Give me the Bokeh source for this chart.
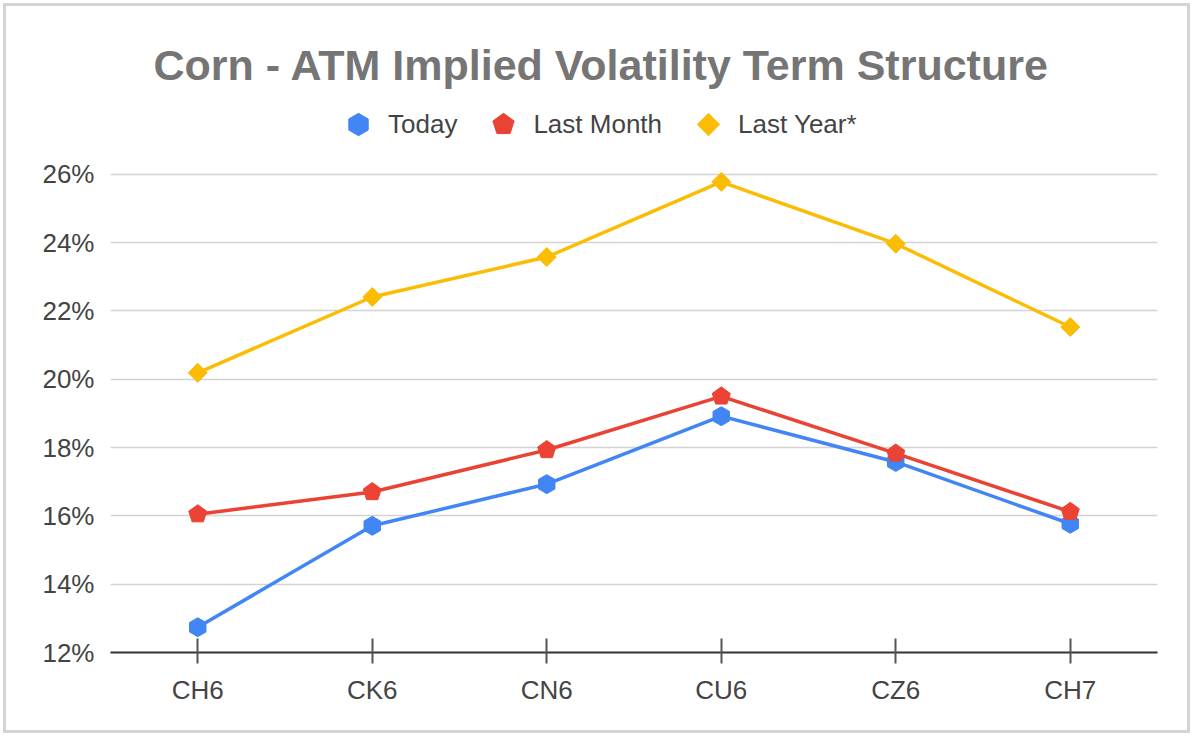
from bokeh.plotting import figure
from bokeh.models import Range1d, Legend, LegendItem, FixedTicker, CustomJSTickFormatter
from bokeh.embed import file_html
from bokeh.resources import INLINE

# Contract months and ATM implied volatility (%)
contracts = ["CH6", "CK6", "CN6", "CU6", "CZ6", "CH7"]
today = [12.74, 15.71, 16.93, 18.92, 17.58, 15.77]
last_month = [16.05, 16.70, 17.93, 19.50, 17.83, 16.12]
last_year = [20.19, 22.41, 23.58, 25.78, 23.97, 21.53]
y_ticks = [12, 14, 16, 18, 20, 22, 24, 26]

FONT = "Liberation Sans"
LABEL_SIZE = "26px"

# the plot area reaches up past the 26% line to leave room for the legend
p = figure(
    width=1187, height=730,
    x_range=contracts, y_range=Range1d(12, 28.31),
    output_backend="svg", toolbar_location=None,
    min_border_left=104, min_border_right=36,
    min_border_top=89, min_border_bottom=84,
    background_fill_color="white", border_fill_color="white",
)
p.styles = {"border": "3px solid #d4d4d4", "margin": "3px"}
p.outline_line_color = None

p.title.text = "Corn - ATM Implied Volatility Term Structure"
p.title.text_font = FONT
p.title.text_font_style = "bold"
p.title.text_font_size = "43px"
p.title.text_color = "#757575"
p.title.align = "left"
p.title.offset = 43
p.title.standoff = 13

# axes
p.yaxis.ticker = FixedTicker(ticks=y_ticks)
p.yaxis.formatter = CustomJSTickFormatter(code="return tick + '%';")
p.yaxis.axis_line_color = None
p.yaxis.major_tick_line_color = None
p.yaxis.minor_tick_line_color = None
p.yaxis.major_label_standoff = 10
p.yaxis.major_label_text_font = FONT
p.yaxis.major_label_text_font_size = LABEL_SIZE
p.yaxis.major_label_text_color = "#444444"

p.xaxis.axis_line_color = "#333333"
p.xaxis.axis_line_width = 2
p.xaxis.major_tick_line_color = "#555555"
p.xaxis.major_tick_line_width = 2
p.xaxis.major_tick_in = 14
p.xaxis.major_tick_out = 11
p.xaxis.major_label_standoff = 11
p.xaxis.major_label_text_font = FONT
p.xaxis.major_label_text_font_size = LABEL_SIZE
p.xaxis.major_label_text_color = "#444444"

p.xgrid.grid_line_color = None
p.ygrid.grid_line_color = "#d3d3d3"
p.ygrid.grid_line_width = 1.5

series = [
    ("Today", today, "#4285F4", 6),
    ("Last Month", last_month, "#EA4335", 5),
    ("Last Year*", last_year, "#FBBC04", 4),
]

items = []
for label, vals, color, n in series:
    p.line(contracts, vals, line_color=color, line_width=3.5)
    r = p.ngon(x=contracts, y=vals, radius=9.5, radius_units="screen", n=n,
               fill_color=color, line_color=color)
    items.append(LegendItem(label=label, renderers=[r]))

# horizontal legend between the title and the top grid line
legend = Legend(items=items, orientation="horizontal", location=(220, 500))
legend.border_line_color = None
legend.background_fill_alpha = 0
legend.margin = 0
legend.padding = 0
legend.spacing = 18
legend.glyph_width = 56
legend.glyph_height = 56
legend.label_standoff = 2
legend.label_text_font = FONT
legend.label_text_font_size = LABEL_SIZE
legend.label_text_color = "#444444"
p.add_layout(legend, "center")

open("out.html", "w").write(file_html(p, INLINE))
